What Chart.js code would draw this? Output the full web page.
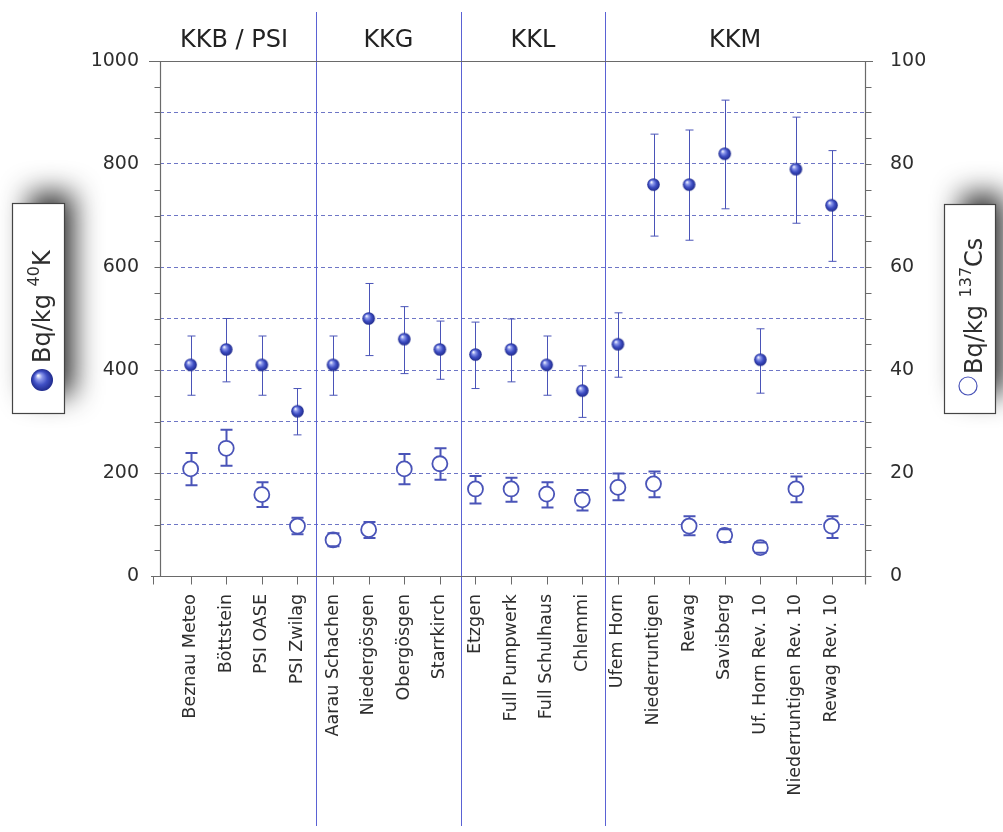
<!DOCTYPE html>
<html><head><meta charset="utf-8">
<script src="https://cdn.jsdelivr.net/npm/chart.js@4.4.1/dist/chart.umd.min.js"></script>
<style>html,body{margin:0;padding:0;background:#fff;overflow:hidden}#wrap{width:1003px;height:832px;position:relative}</style>
</head><body><div id="wrap"><canvas id="c"></canvas></div>
<script>
const categories = ['Beznau Meteo','Böttstein','PSI OASE','PSI Zwilag','Aarau Schachen','Niedergösgen','Obergösgen','Starrkirch','Etzgen','Full Pumpwerk','Full Schulhaus','Chlemmi','Ufem Horn','Niederruntigen','Rewag','Savisberg','Uf. Horn Rev. 10','Niederruntigen Rev. 10','Rewag Rev. 10'];
const groupNames = ['KKB / PSI','KKG','KKL','KKM'];
const groupDividers = [3.52, 7.59, 11.64];
const k40 = [410,440,410,320,410,500,460,440,430,440,410,360,450,760,760,820,420,790,720];
const k40Low = [351,377,351,274,351,428,393,382,364,377,351,308,386,660,652,713,355,685,611];
const k40High = [466,500,466,364,466,568,523,495,493,499,466,408,511,858,866,924,480,891,826];
const cs137 = [20.8,24.8,15.8,9.7,7.0,9.0,20.8,21.8,16.9,16.9,15.9,14.8,17.2,17.9,9.7,7.9,5.5,16.9,9.7];
const cs137Low = [17.6,21.4,13.4,8.1,5.8,7.4,17.8,18.7,14.1,14.4,13.3,12.7,14.7,15.3,7.9,6.6,4.5,14.3,7.4];
const cs137High = [23.9,28.4,18.2,11.3,8.3,10.5,23.7,24.8,19.4,19.1,18.2,16.7,19.9,20.3,11.6,9.1,6.5,19.3,11.6];
const leftTickLabels = [0,200,400,600,800,1000];
const rightTickLabels = [0,20,40,60,80,100];

const BLUE = '#4a54b8';
const AXIS = '#6a6a6a';
const TXT = '#2e2e2e';
const CS_R = 7.5;

function makeSphere(r){
  const c = document.createElement('canvas');
  const s = Math.ceil(r*2+2);
  c.width = s; c.height = s;
  const g = c.getContext('2d');
  const cx = s/2, cy = s/2;
  const grad = g.createRadialGradient(cx - r*0.35, cy - r*0.4, r*0.05, cx, cy, r);
  grad.addColorStop(0, '#f4f6ff');
  grad.addColorStop(0.25, '#8c98ea');
  grad.addColorStop(0.6, '#3f4fc4');
  grad.addColorStop(1, '#1f2a8c');
  g.fillStyle = grad;
  g.beginPath(); g.arc(cx, cy, r, 0, Math.PI*2); g.fill();
  return c;
}
const sphere = makeSphere(6.3);
const bigSphere = makeSphere(11);

const kData = k40.map((v,i)=>({x:i,y:v}));
const cData = cs137.map((v,i)=>({x:i,y:v}));

const customPlugin = {
  id: 'custom',
  beforeDatasetsDraw(chart){
    const ctx = chart.ctx;
    const xs = chart.scales.x, ys = chart.scales.y, y2 = chart.scales.y2;
    const a = chart.chartArea;
    ctx.save();
    ctx.strokeStyle = '#5a62d4'; ctx.lineWidth = 1;
    groupDividers.forEach(d=>{
      const px = Math.round(xs.getPixelForValue(d))+0.5;
      ctx.beginPath(); ctx.moveTo(px, 12); ctx.lineTo(px, 826); ctx.stroke();
    });
    ctx.strokeStyle = AXIS; ctx.lineWidth = 1.2;
    const L = Math.round(a.left)+0.5, R = Math.round(a.right)+0.5, T = Math.round(a.top)+0.5, B = Math.round(a.bottom)+0.5;
    ctx.beginPath();
    ctx.moveTo(149, T); ctx.lineTo(873, T);
    ctx.moveTo(151, B); ctx.lineTo(871, B);
    ctx.moveTo(L, T); ctx.lineTo(L, B);
    ctx.moveTo(R, T); ctx.lineTo(R, B+8);
    ctx.stroke();
    ctx.lineWidth = 1;
    ctx.beginPath();
    for (let v=0; v<=1000; v+=50){
      const py = Math.round(ys.getPixelForValue(v))+0.5;
      ctx.moveTo(L-6, py); ctx.lineTo(L, py);
    }
    for (let v=0; v<=100; v+=5){
      const py = Math.round(y2.getPixelForValue(v))+0.5;
      ctx.moveTo(R, py); ctx.lineTo(R+6, py);
    }
    for (let i=0;i<categories.length;i++){
      const px = Math.round(xs.getPixelForValue(i))+0.5;
      ctx.moveTo(px, B); ctx.lineTo(px, B+8);
    }
    ctx.moveTo(153.5, B); ctx.lineTo(153.5, B+8);
    ctx.stroke();
    ctx.strokeStyle = BLUE; ctx.lineWidth = 1;
    k40Low.forEach((lo,i)=>{
      const px = Math.round(xs.getPixelForValue(i))+0.5;
      const pl = ys.getPixelForValue(lo), ph = ys.getPixelForValue(k40High[i]);
      ctx.beginPath();
      ctx.moveTo(px, pl); ctx.lineTo(px, ph);
      ctx.moveTo(px-4, pl); ctx.lineTo(px+4, pl);
      ctx.moveTo(px-4, ph); ctx.lineTo(px+4, ph);
      ctx.stroke();
    });
    ctx.restore();
  },
  afterDatasetsDraw(chart){
    const ctx = chart.ctx;
    const xs = chart.scales.x, y2 = chart.scales.y2;
    ctx.save();
    ctx.strokeStyle = BLUE; ctx.lineWidth = 2;
    cs137Low.forEach((lo,i)=>{
      const px = Math.round(xs.getPixelForValue(i))+0.5;
      const pc = y2.getPixelForValue(cs137[i]);
      const pl = y2.getPixelForValue(lo), ph = y2.getPixelForValue(cs137High[i]);
      ctx.beginPath();
      if (pl > pc + CS_R) { ctx.moveTo(px, pl); ctx.lineTo(px, pc + CS_R); }
      if (ph < pc - CS_R) { ctx.moveTo(px, ph); ctx.lineTo(px, pc - CS_R); }
      ctx.moveTo(px-6, pl); ctx.lineTo(px+6, pl);
      ctx.moveTo(px-6, ph); ctx.lineTo(px+6, ph);
      ctx.stroke();
    });
    ctx.restore();
  },
  afterDraw(chart){
    const ctx = chart.ctx;
    const xs = chart.scales.x;
    const a = chart.chartArea;
    ctx.save();
    ctx.fillStyle = '#222';
    ctx.font = '24px "DejaVu Sans"';
    ctx.textAlign = 'center'; ctx.textBaseline = 'alphabetic';
    const bounds = [a.left, ...groupDividers.map(d=>xs.getPixelForValue(d)), a.right];
    groupNames.forEach((n,i)=>{
      ctx.fillText(n, (bounds[i]+bounds[i+1])/2 - (i===0?4:0), 47);
    });
    const box = (x,y,w,h) => {
      ctx.save();
      ctx.shadowColor = 'rgba(0,0,0,0.85)';
      ctx.shadowBlur = 28; ctx.shadowOffsetX = 13; ctx.shadowOffsetY = -14;
      ctx.fillStyle = '#fff';
      ctx.fillRect(x+4,y+4,w-8,h-8);
      ctx.restore();
      ctx.fillStyle = '#fff'; ctx.fillRect(x,y,w,h);
      ctx.strokeStyle = '#444'; ctx.lineWidth = 1.2;
      ctx.strokeRect(x+0.5,y+0.5,w,h);
    };
    box(12,203,52,210);
    box(944,204,51,209);
    const rotText = (bx, by, parts) => {
      ctx.save();
      ctx.translate(bx, by); ctx.rotate(-Math.PI/2);
      ctx.fillStyle = TXT; ctx.textAlign = 'left'; ctx.textBaseline = 'alphabetic';
      let x = 0;
      parts.forEach(p=>{
        ctx.font = p.size + 'px "DejaVu Sans"';
        ctx.fillText(p.t, x, -(p.rise||0));
        x += ctx.measureText(p.t).width;
      });
      ctx.restore();
    };
    ctx.drawImage(bigSphere, 42 - bigSphere.width/2, 380 - bigSphere.height/2);
    rotText(50, 363, [{t:'Bq/kg ', size:24},{t:'40', size:16, rise:11},{t:'K', size:24}]);
    ctx.strokeStyle = BLUE; ctx.lineWidth = 1.2;
    ctx.beginPath(); ctx.arc(968, 386, 9, 0, Math.PI*2); ctx.stroke();
    rotText(982, 374, [{t:'Bq/kg ', size:24},{t:'137', size:16, rise:11},{t:'Cs', size:24}]);
    ctx.restore();
  }
};

new Chart(document.getElementById('c'), {
  type: 'scatter',
  data: {
    datasets: [
      { label: 'Bq/kg 40K', data: kData, yAxisID: 'y', pointStyle: sphere, pointRadius: 6, pointHoverRadius: 6 },
      { label: 'Bq/kg 137Cs', data: cData, yAxisID: 'y2', pointStyle: 'circle', pointRadius: CS_R, pointHoverRadius: CS_R,
        borderColor: BLUE, backgroundColor: '#ffffff', borderWidth: 1.8 }
    ]
  },
  plugins: [customPlugin],
  options: {
    responsive: true, maintainAspectRatio: false, animation: false,
    layout: { padding: { top: 61, left: 0, right: 0, bottom: 0 } },
    plugins: { legend: { display: false }, tooltip: { enabled: false } },
    scales: {
      x: {
        type: 'linear', min: -0.86, max: 18.94,
        afterBuildTicks: s => { s.ticks = categories.map((c,i)=>({value:i})); },
        afterFit: s => { s.height = 256; },
        grid: { display: false }, border: { display: false },
        ticks: { autoSkip: false, maxRotation: 90, minRotation: 90, padding: 10, color: TXT,
          font: { family: 'DejaVu Sans', size: 17.5 },
          callback: v => categories[v] }
      },
      y: {
        position: 'left', min: 0, max: 1000,
        afterFit: s => { s.width = 160; },
        afterBuildTicks: s => { const t=[]; for(let v=0; v<=1000; v+=100) t.push({value:v}); s.ticks = t; },
        grid: { drawTicks: false, lineWidth: 1,
          color: c => (c.tick && (c.tick.value===0 || c.tick.value===1000)) ? 'rgba(0,0,0,0)' : '#6e76c6' },
        border: { display: false, dash: [4,3] },
        ticks: { padding: 21, color: TXT, font: { family: 'DejaVu Sans', size: 19 },
          callback: v => leftTickLabels.includes(v) ? String(v) : '' }
      },
      y2: {
        position: 'right', min: 0, max: 100,
        afterFit: s => { s.width = 138; },
        afterBuildTicks: s => { s.ticks = rightTickLabels.map(v=>({value:v})); },
        grid: { display: false, drawTicks: false }, border: { display: false },
        ticks: { padding: 25, color: TXT, font: { family: 'DejaVu Sans', size: 19 },
          callback: v => rightTickLabels.includes(v) ? String(v) : '' }
      }
    }
  }
});
</script></body></html>
